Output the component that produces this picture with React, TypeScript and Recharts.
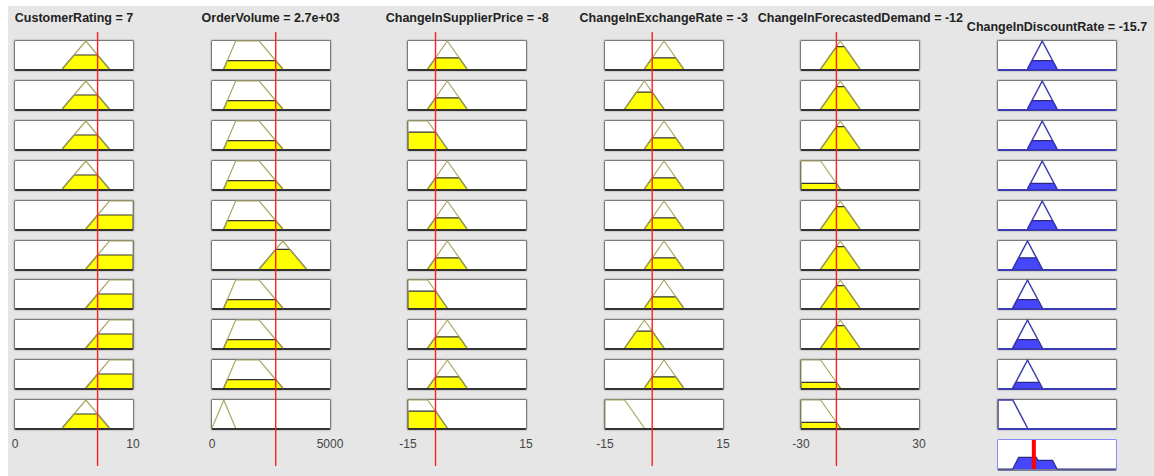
import React from "react";
import { ComposedChart, XAxis, YAxis, Area, Line, ReferenceLine } from "recharts";

// Inputs (rule viewer columns)
const inputNames = [
  "CustomerRating",
  "OrderVolume",
  "ChangeInSupplierPrice",
  "ChangeInExchangeRate",
  "ChangeInForecastedDemand",
];
const inputValues = [7, 2700, -8, -3, -12];
const inputValueLabels = ["7", "2.7e+03", "-8", "-3", "-12"];
const inputRanges: [number, number][] = [
  [0, 10],
  [0, 5000],
  [-15, 15],
  [-15, 15],
  [-30, 30],
];

// membership functions per rule, as trapezoid [a, b, c, d]
const customerRatingMfs = [
  [4, 6, 6, 8], [4, 6, 6, 8], [4, 6, 6, 8], [4, 6, 6, 8], [6, 8, 10, 10],
  [6, 8, 10, 10], [6, 8, 10, 10], [6, 8, 10, 10], [6, 8, 10, 10], [4, 6, 6, 8],
];
const customerRatingLevels = [0.5, 0.5, 0.5, 0.5, 0.5, 0.5, 0.5, 0.5, 0.5, 0.5];

const orderVolumeMfs = [
  [500, 1000, 2000, 3000], [500, 1000, 2000, 3000], [500, 1000, 2000, 3000],
  [500, 1000, 2000, 3000], [500, 1000, 2000, 3000], [2000, 3000, 3000, 4000],
  [500, 1000, 2000, 3000], [500, 1000, 2000, 3000], [500, 1000, 2000, 3000],
  [0, 500, 500, 1000],
];
const orderVolumeLevels = [0.3, 0.3, 0.3, 0.3, 0.3, 0.7, 0.3, 0.3, 0.3, 0];

const supplierPriceMfs = [
  [-10, -5, -5, 0], [-10, -5, -5, 0], [-15, -15, -10, -5], [-10, -5, -5, 0],
  [-10, -5, -5, 0], [-10, -5, -5, 0], [-15, -15, -10, -5], [-10, -5, -5, 0],
  [-10, -5, -5, 0], [-15, -15, -10, -5],
];
const supplierPriceLevels = [0.4, 0.4, 0.6, 0.4, 0.4, 0.4, 0.6, 0.4, 0.4, 0.6];

const exchangeRateMfs = [
  [-5, 0, 0, 5], [-10, -5, -5, 0], [-5, 0, 0, 5], [-5, 0, 0, 5], [-5, 0, 0, 5],
  [-5, 0, 0, 5], [-5, 0, 0, 5], [-10, -5, -5, 0], [-5, 0, 0, 5], [-15, -15, -10, -5],
];
const exchangeRateLevels = [0.4, 0.6, 0.4, 0.4, 0.4, 0.4, 0.4, 0.6, 0.4, 0];

const forecastDemandMfs = [
  [-20, -10, -10, 0], [-20, -10, -10, 0], [-20, -10, -10, 0], [-30, -30, -20, -10],
  [-20, -10, -10, 0], [-20, -10, -10, 0], [-20, -10, -10, 0], [-20, -10, -10, 0],
  [-30, -30, -20, -10], [-30, -30, -20, -10],
];
const forecastDemandLevels = [0.8, 0.8, 0.8, 0.2, 0.8, 0.8, 0.8, 0.8, 0.2, 0.2];

// Output
const outputName = "ChangeInDiscountRate";
const outputValue = -15.7;
const outputValueLabel = "-15.7";
const outputRange: [number, number] = [-40, 40];
const discountRateMfs = [
  [-20, -10, -10, 0], [-20, -10, -10, 0], [-20, -10, -10, 0], [-20, -10, -10, 0],
  [-20, -10, -10, 0], [-30, -20, -20, -10], [-30, -20, -20, -10], [-30, -20, -20, -10],
  [-30, -20, -20, -10], [-40, -40, -30, -20],
];
const discountRateLevels = [0.3, 0.3, 0.3, 0.2, 0.3, 0.4, 0.3, 0.3, 0.2, 0];
// aggregated output shape (x, degree)
const aggregateX = [-40, -30, -26, -14, -13, -3, 0, 40];
const aggregateY = [0, 0, 0.4, 0.4, 0.3, 0.3, 0, 0];

const inputMfs = [customerRatingMfs, orderVolumeMfs, supplierPriceMfs, exchangeRateMfs, forecastDemandMfs];
const inputLevels = [customerRatingLevels, orderVolumeLevels, supplierPriceLevels, exchangeRateLevels, forecastDemandLevels];

const COL_X0 = 14;
const COL_STEP = 196.6;
const BOX_W = 120;
const BOX_H = 31;
const ROW_Y0 = 40;
const ROW_STEP = 39.9;
const FONT = "'Liberation Sans', Arial, Helvetica, sans-serif";

function outline(mf: number[]) {
  const [a, b, c, d] = mf;
  return [
    { x: a, y: 0 },
    { x: b, y: 1 },
    { x: c, y: 1 },
    { x: d, y: 0 },
  ];
}

function clipped(mf: number[], h: number) {
  const [a, b, c, d] = mf;
  return [
    { x: a, y: 0 },
    { x: a + (b - a) * h, y: h },
    { x: d - (d - c) * h, y: h },
    { x: d, y: 0 },
  ];
}

function Cell({
  left,
  top,
  range,
  mf,
  level,
  output,
  showTicks,
}: {
  left: number;
  top: number;
  range: [number, number];
  mf: number[];
  level: number;
  output?: boolean;
  showTicks?: boolean;
}) {
  const innerW = BOX_W - 2;
  const innerH = BOX_H - 3;
  return (
    <div
      style={{
        position: "absolute",
        left,
        top,
        width: BOX_W,
        height: BOX_H,
        boxSizing: "border-box",
        background: "#fff",
        border: "1px solid #7a7a7a",
        borderBottom: `2px solid ${output ? "#3c3cb4" : "#333"}`,
        borderRadius: 2,
        boxShadow: "0 0 1px 1px rgba(0,0,0,0.12)",
      }}
    >
      <div style={{ position: "absolute", left: 0, top: 0 }}>
        <ComposedChart
          width={innerW}
          height={innerH + (showTicks ? 24 : 0)}
          margin={{ top: 0, right: 0, bottom: 0, left: 0 }}
        >
          <XAxis
            type="number"
            dataKey="x"
            domain={range}
            allowDataOverflow
            hide={!showTicks}
            ticks={range}
            interval={0}
            axisLine={false}
            tickLine={false}
            tickMargin={5}
            height={24}
            tick={{ fontSize: 12, fill: "#444", stroke: "none", fontFamily: FONT }}
          />
          <YAxis type="number" domain={[0, 1]} hide />
          <Line
            data={outline(mf)}
            dataKey="y"
            type="linear"
            stroke={output ? "#3b3bb0" : "#a9a65f"}
            strokeWidth={output ? 1.5 : 1.2}
            dot={false}
            isAnimationActive={false}
          />
          {level > 0 && (
            <Area
              data={clipped(mf, level)}
              dataKey="y"
              type="linear"
              fill={output ? "#4646ff" : "#ffff00"}
              fillOpacity={1}
              stroke={output ? "#2a2a80" : "#333"}
              strokeWidth={1.2}
              isAnimationActive={false}
            />
          )}
        </ComposedChart>
      </div>
    </div>
  );
}

export default function App() {
  const rows = customerRatingLevels.map((_, r) => r);
  const outLeft = COL_X0 + 5 * COL_STEP;
  const aggTop = ROW_Y0 + 10 * ROW_STEP;
  const aggregate = aggregateX.map((x, i) => ({ x, y: aggregateY[i] }));
  const titleStyle: React.CSSProperties = {
    position: "absolute",
    width: 300,
    textAlign: "center",
    fontSize: 12.5,
    fontWeight: "bold",
    color: "#222",
    whiteSpace: "nowrap",
  };
  return (
    <div style={{ position: "absolute", left: 0, top: 0, width: 1154, height: 476, background: "#fff", fontFamily: FONT }}>
      <style>{`.recharts-surface{overflow:visible}`}</style>
      <div style={{ position: "absolute", left: 8, top: 6, width: 1146, height: 470, background: "#e6e6e6" }} />

      {inputNames.map((name, i) => {
        const left = COL_X0 + i * COL_STEP;
        return (
          <React.Fragment key={name}>
            <div style={{ ...titleStyle, left: left + BOX_W / 2 - 150, top: 11 }}>
              {name} = {inputValueLabels[i]}
            </div>
            {rows.map((r) => (
              <Cell
                key={r}
                left={left}
                top={ROW_Y0 + r * ROW_STEP}
                range={inputRanges[i]}
                mf={inputMfs[i][r]}
                level={inputLevels[i][r]}
                showTicks={r === rows.length - 1}
              />
            ))}
            <div style={{ position: "absolute", left: left + 1, top: 32, pointerEvents: "none" }}>
              <ComposedChart
                width={BOX_W - 2}
                height={434}
                margin={{ top: 0, right: 0, bottom: 0, left: 0 }}
              >
                <XAxis type="number" dataKey="x" domain={inputRanges[i]} hide />
                <YAxis type="number" domain={[0, 1]} hide />
                <Line
                  data={[
                    { x: inputValues[i], y: 0 },
                    { x: inputValues[i], y: 1 },
                  ]}
                  dataKey="y"
                  type="linear"
                  stroke="#ff1f1f"
                  strokeWidth={1.4}
                  dot={false}
                  isAnimationActive={false}
                />
              </ComposedChart>
            </div>
          </React.Fragment>
        );
      })}

      <div style={{ ...titleStyle, left: outLeft + BOX_W / 2 - 150, top: 20 }}>
        {outputName} = {outputValueLabel}
      </div>
      {rows.map((r) => (
        <Cell
          key={r}
          left={outLeft}
          top={ROW_Y0 + r * ROW_STEP}
          range={outputRange}
          mf={discountRateMfs[r]}
          level={discountRateLevels[r]}
          output
        />
      ))}
      <div
        style={{
          position: "absolute",
          left: outLeft,
          top: aggTop,
          width: BOX_W,
          height: BOX_H + 1,
          boxSizing: "border-box",
          background: "#fff",
          border: "1px solid #8a8aff",
          borderBottom: "2px solid #7a7a9a",
          borderRadius: 2,
        }}
      >
        <div style={{ position: "absolute", left: 0, top: 0 }}>
          <ComposedChart width={BOX_W - 2} height={BOX_H - 2} margin={{ top: 0, right: 0, bottom: 0, left: 0 }}>
            <XAxis type="number" dataKey="x" domain={outputRange} hide />
            <YAxis type="number" domain={[0, 1]} hide />
            <Area
              data={aggregate}
              dataKey="y"
              type="linear"
              fill="#4646ff"
              fillOpacity={1}
              stroke="#2a2a80"
              strokeWidth={1.2}
              isAnimationActive={false}
            />
            <ReferenceLine x={outputValue} stroke="#ff0000" strokeWidth={4} />
          </ComposedChart>
        </div>
      </div>
    </div>
  );
}
